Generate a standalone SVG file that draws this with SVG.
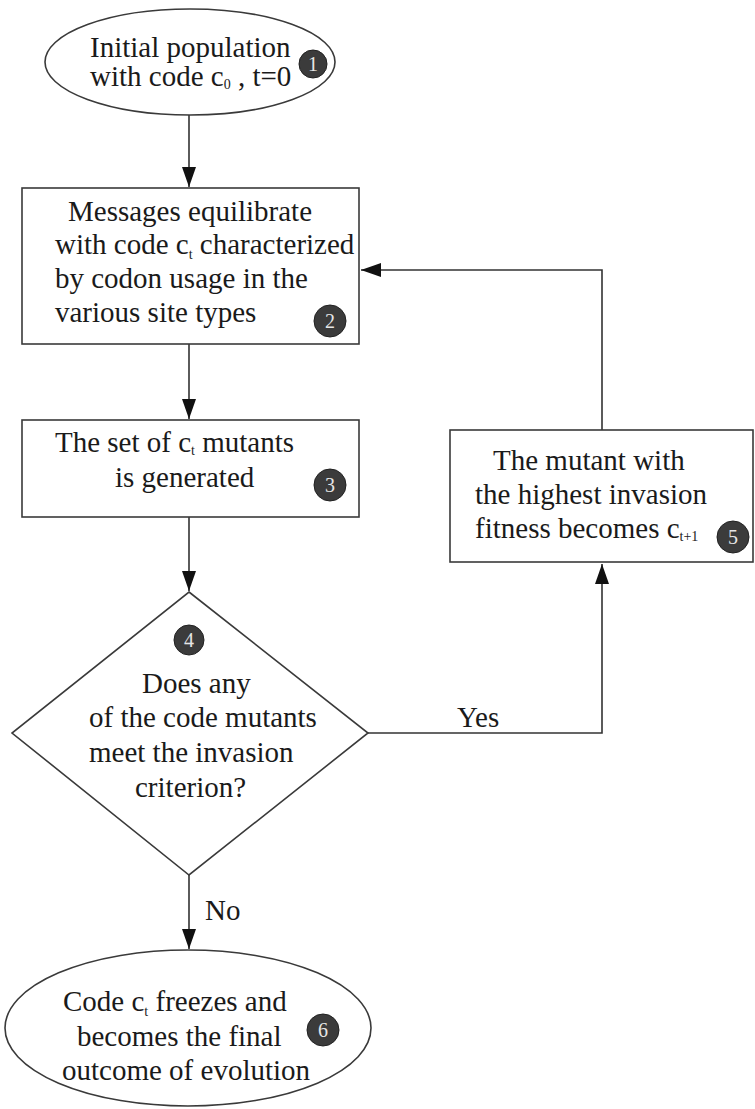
<svg xmlns="http://www.w3.org/2000/svg" width="755" height="1109" viewBox="0 0 755 1109">
<style>
.shape{fill:#ffffff;stroke:#3a3a3a;stroke-width:1.6}
.conn{fill:none;stroke:#333333;stroke-width:1.6}
.t{font-family:"Liberation Serif","Times New Roman",serif;font-size:29px;fill:#1a1a1a}
.sub{font-size:14px}
.badge circle{fill:#3b3b3b;stroke:#222;stroke-width:1}
.badge text{font-family:"Liberation Serif","Times New Roman",serif;font-size:20px;fill:#e6e6e6;text-anchor:middle}
</style>
<defs>
<marker id="arr" markerUnits="userSpaceOnUse" viewBox="0 0 20 14" markerWidth="20" markerHeight="14" refX="20" refY="7" orient="auto">
<path d="M0,0 L20,7 L0,14 z" fill="#111111"/>
</marker>
</defs>
<rect width="755" height="1109" fill="#ffffff"/>

<g id="connectors">
<line class="conn" x1="189" y1="115" x2="189" y2="187" marker-end="url(#arr)"/>
<line class="conn" x1="189" y1="344" x2="189" y2="419" marker-end="url(#arr)"/>
<line class="conn" x1="189" y1="517" x2="189" y2="591" marker-end="url(#arr)"/>
<polyline class="conn" points="368,733 602,733 602,564" marker-end="url(#arr)"/>
<polyline class="conn" points="602,430 602,270 361,270" marker-end="url(#arr)"/>
<line class="conn" x1="189" y1="875" x2="189" y2="949" marker-end="url(#arr)"/>
<text class="t" x="457" y="727">Yes</text>
<text class="t" x="205" y="920">No</text>
</g>

<g id="node1">
<ellipse class="shape" cx="190" cy="62" rx="145" ry="53"/>
<text class="t" x="90" y="57">Initial population</text>
<text class="t" x="90" y="86">with code c<tspan class="sub" dy="3">0</tspan><tspan dy="-3"> , t=0</tspan></text>
<g class="badge"><circle cx="313" cy="64" r="14"/><text x="313" y="71">1</text></g>
</g>

<g id="node2">
<rect class="shape" x="22" y="188" width="337" height="156"/>
<text class="t" x="68" y="221">Messages equilibrate</text>
<text class="t" x="55" y="254">with code c<tspan class="sub" dy="5">t</tspan><tspan dy="-5"> characterized</tspan></text>
<text class="t" x="55" y="288">by codon usage in the</text>
<text class="t" x="55" y="322">various site types</text>
<g class="badge"><circle cx="330" cy="321" r="16"/><text x="330" y="328">2</text></g>
</g>

<g id="node3">
<rect class="shape" x="22" y="420" width="337" height="97"/>
<text class="t" x="55" y="452">The set of c<tspan class="sub" dy="3">t</tspan><tspan dy="-3"> mutants</tspan></text>
<text class="t" x="115" y="487">is generated</text>
<g class="badge"><circle cx="330" cy="485" r="16"/><text x="330" y="492">3</text></g>
</g>

<g id="node4">
<polygon class="shape" points="189,592 368,733 189,875 12,733"/>
<g class="badge"><circle cx="189" cy="640" r="15"/><text x="189" y="647">4</text></g>
<text class="t" x="142" y="693">Does any</text>
<text class="t" x="89" y="727">of the code mutants</text>
<text class="t" x="89" y="762">meet the invasion</text>
<text class="t" x="135" y="797">criterion?</text>
</g>

<g id="node5">
<rect class="shape" x="450" y="430" width="303" height="132"/>
<text class="t" x="493" y="470">The mutant with</text>
<text class="t" x="475" y="504">the highest invasion</text>
<text class="t" x="475" y="538">fitness becomes c<tspan class="sub" dy="3">t+1</tspan></text>
<g class="badge"><circle cx="733" cy="537" r="16"/><text x="733" y="544">5</text></g>
</g>

<g id="node6">
<ellipse class="shape" cx="188" cy="1028" rx="183" ry="78"/>
<text class="t" x="63" y="1011">Code c<tspan class="sub" dy="5">t</tspan><tspan dy="-5"> freezes and</tspan></text>
<text class="t" x="77" y="1046">becomes the final</text>
<text class="t" x="62" y="1080">outcome of evolution</text>
<g class="badge"><circle cx="323" cy="1030" r="16"/><text x="323" y="1037">6</text></g>
</g>
</svg>
